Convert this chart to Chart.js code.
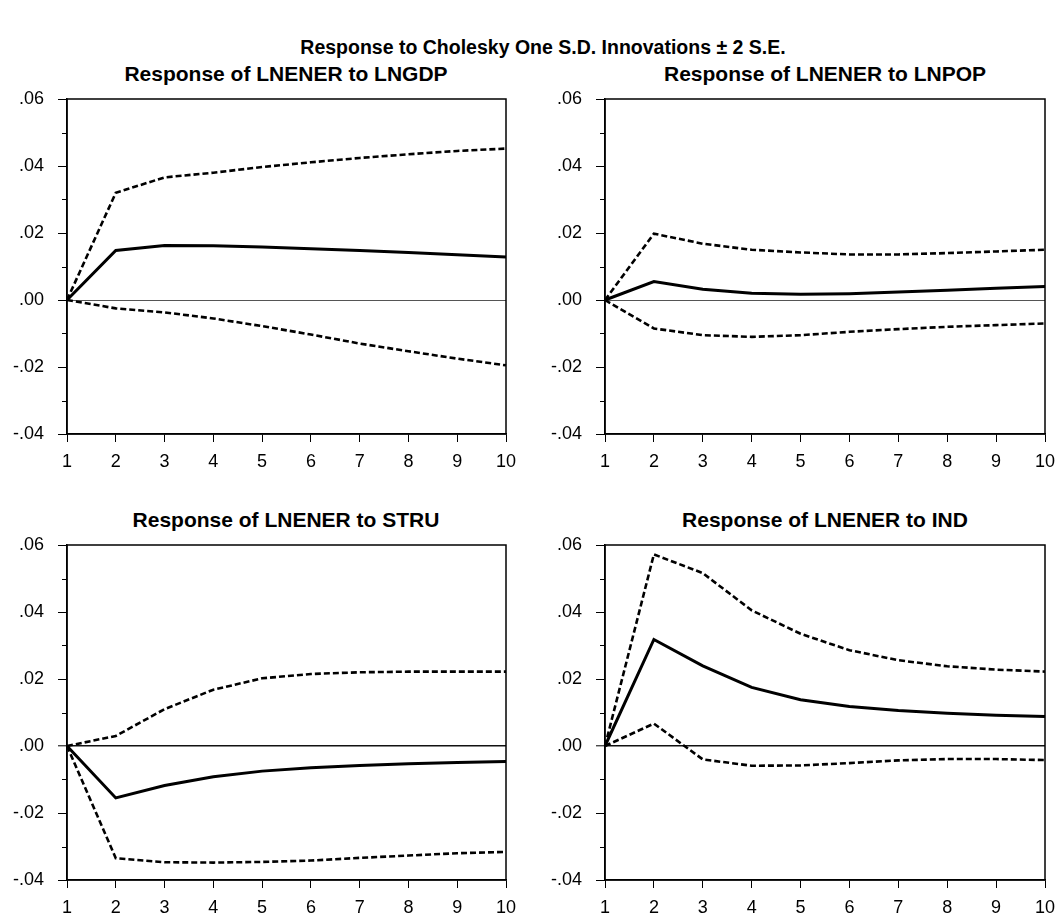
<!DOCTYPE html>
<html>
<head>
<meta charset="utf-8">
<script src="https://cdn.jsdelivr.net/npm/chart.js@4.4.0/dist/chart.umd.min.js"></script>
<style>
  body { margin: 0; background: #fff; width: 1057px; height: 913px; overflow: hidden; position: relative;
         font-family: "Liberation Sans", Arial, sans-serif; }
  .title { position: absolute; font-weight: bold; color: #000; white-space: nowrap; transform: translateX(-50%); line-height: 24px; }
  canvas { position: absolute; }
</style>
</head>
<body>
<div class="title" style="left:543px; top:35px; font-size:19.5px;">Response to Cholesky One S.D. Innovations ± 2 S.E.</div>
<div class="title" style="left:286px; top:62px; font-size:21px;">Response of LNENER to LNGDP</div>
<div class="title" style="left:825px; top:62px; font-size:21px;">Response of LNENER to LNPOP</div>
<div class="title" style="left:286px; top:508px; font-size:21px;">Response of LNENER to STRU</div>
<div class="title" style="left:825px; top:508px; font-size:21px;">Response of LNENER to IND</div>
<canvas id="p1" width="530" height="381" style="left:0; top:89px;"></canvas>
<canvas id="p2" width="519" height="381" style="left:538px; top:89px;"></canvas>
<canvas id="p3" width="530" height="381" style="left:0; top:535px;"></canvas>
<canvas id="p4" width="519" height="381" style="left:538px; top:535px;"></canvas>
<script>
// periods after the shock
const HORIZON = ['1', '2', '3', '4', '5', '6', '7', '8', '9', '10'];

// LNENER to LNGDP
const GDP_RESP = [0, 0.0148, 0.0163, 0.0162, 0.0158, 0.0153, 0.0148, 0.0142, 0.0135, 0.0128];
const GDP_UPPER = [0, 0.0320, 0.0366, 0.0380, 0.0397, 0.0411, 0.0424, 0.0435, 0.0445, 0.0452];
const GDP_LOWER = [0, -0.0025, -0.0037, -0.0055, -0.0078, -0.0103, -0.0130, -0.0153, -0.0175, -0.0195];

// LNENER to LNPOP
const POP_RESP = [0, 0.0055, 0.0032, 0.0020, 0.0017, 0.0019, 0.0024, 0.0029, 0.0035, 0.0040];
const POP_UPPER = [0, 0.0198, 0.0168, 0.0150, 0.0142, 0.0136, 0.0136, 0.0140, 0.0145, 0.0150];
const POP_LOWER = [0, -0.0085, -0.0105, -0.0110, -0.0105, -0.0095, -0.0087, -0.0080, -0.0075, -0.0070];

// LNENER to STRU
const STRU_RESP = [0, -0.0155, -0.0118, -0.0092, -0.0075, -0.0065, -0.0058, -0.0053, -0.0049, -0.0046];
const STRU_UPPER = [0, 0.0030, 0.0110, 0.0168, 0.0202, 0.0215, 0.0220, 0.0222, 0.0222, 0.0222];
const STRU_LOWER = [0, -0.0335, -0.0347, -0.0348, -0.0346, -0.0342, -0.0334, -0.0327, -0.0320, -0.0316];

// LNENER to IND
const IND_RESP = [0, 0.0318, 0.0239, 0.0175, 0.0138, 0.0118, 0.0106, 0.0098, 0.0092, 0.0088];
const IND_UPPER = [0, 0.0572, 0.0516, 0.0405, 0.0335, 0.0286, 0.0256, 0.0238, 0.0228, 0.0222];
const IND_LOWER = [0, 0.0067, -0.0040, -0.0059, -0.0058, -0.0051, -0.0043, -0.0039, -0.0039, -0.0042];

const Y_MIN = -0.04;
const Y_MAX = 0.06;

const FONT = { family: '"Liberation Sans", Arial, sans-serif', size: 18 };

// .06 / .00 / -.04 style labels
function fmtTick(v) {
  const r = Math.round(v * 100) / 100;
  if (Math.abs(r) < 1e-9) return '.00';
  return (r < 0 ? '-' : '') + Math.abs(r).toFixed(2).replace(/^0/, '');
}

// box around the plot + short minor ticks on the left axis
const framePlugin = {
  id: 'frame',
  afterDraw(chart) {
    const { ctx, chartArea: a, scales: { y } } = chart;
    ctx.save();
    ctx.strokeStyle = '#000';
    ctx.lineWidth = 1.5;
    ctx.strokeRect(a.left, a.top, a.right - a.left, a.bottom - a.top);
    ctx.lineWidth = 1;
    for (let v = y.min + 0.01; v < y.max; v += 0.02) {
      const py = Math.round(y.getPixelForValue(v)) + 0.5;
      ctx.beginPath();
      ctx.moveTo(a.left - 5, py);
      ctx.lineTo(a.left, py);
      ctx.stroke();
    }
    ctx.restore();
  },
};

function drawPanel(id, resp, upper, lower, rightPad, zeroColor, zeroWidth) {
  const dashed = { borderColor: '#000', borderWidth: 2.6, borderDash: [6, 3], pointRadius: 0, tension: 0, fill: false };
  return new Chart(id, {
    type: 'line',
    data: {
      labels: HORIZON,
      datasets: [
        { data: resp, borderColor: '#000', borderWidth: 3, pointRadius: 0, tension: 0, fill: false },
        { data: upper, ...dashed },
        { data: lower, ...dashed },
      ],
    },
    options: {
      responsive: false,
      animation: false,
      events: [],
      layout: { padding: { top: 10, right: rightPad, left: 0, bottom: 0 } },
      plugins: { legend: { display: false }, tooltip: { enabled: false }, title: { display: false } },
      scales: {
        x: {
          type: 'category',
          offset: false,
          afterFit: s => { s.height = 36; s.paddingLeft = 0; s.paddingRight = 0; },
          border: { display: true, color: '#000', width: 1.5 },
          grid: { drawOnChartArea: false, drawTicks: true, tickLength: 8, tickColor: '#000', tickWidth: 1, offset: false },
          ticks: { color: '#000', font: FONT, padding: 9, maxRotation: 0, autoSkip: false },
        },
        y: {
          min: Y_MIN,
          max: Y_MAX,
          afterFit: s => { s.width = 67; s.paddingTop = 0; s.paddingBottom = 0; },
          border: { display: true, color: '#000', width: 1.5 },
          grid: {
            drawOnChartArea: true,
            drawTicks: true,
            tickLength: 9,
            tickColor: '#000',
            tickWidth: 1,
            color: c => (Math.abs(c.tick.value) < 1e-9 ? zeroColor : 'rgba(0,0,0,0)'),
            lineWidth: c => (Math.abs(c.tick.value) < 1e-9 ? zeroWidth : 1),
          },
          ticks: { stepSize: 0.02, color: '#000', font: FONT, padding: 14, callback: fmtTick },
        },
      },
    },
    plugins: [framePlugin],
  });
}

drawPanel('p1', GDP_RESP, GDP_UPPER, GDP_LOWER, 24, '#555', 1);
drawPanel('p2', POP_RESP, POP_UPPER, POP_LOWER, 12, '#555', 1);
drawPanel('p3', STRU_RESP, STRU_UPPER, STRU_LOWER, 24, '#111', 1.6);
drawPanel('p4', IND_RESP, IND_UPPER, IND_LOWER, 12, '#111', 1.6);
</script>
</body>
</html>
